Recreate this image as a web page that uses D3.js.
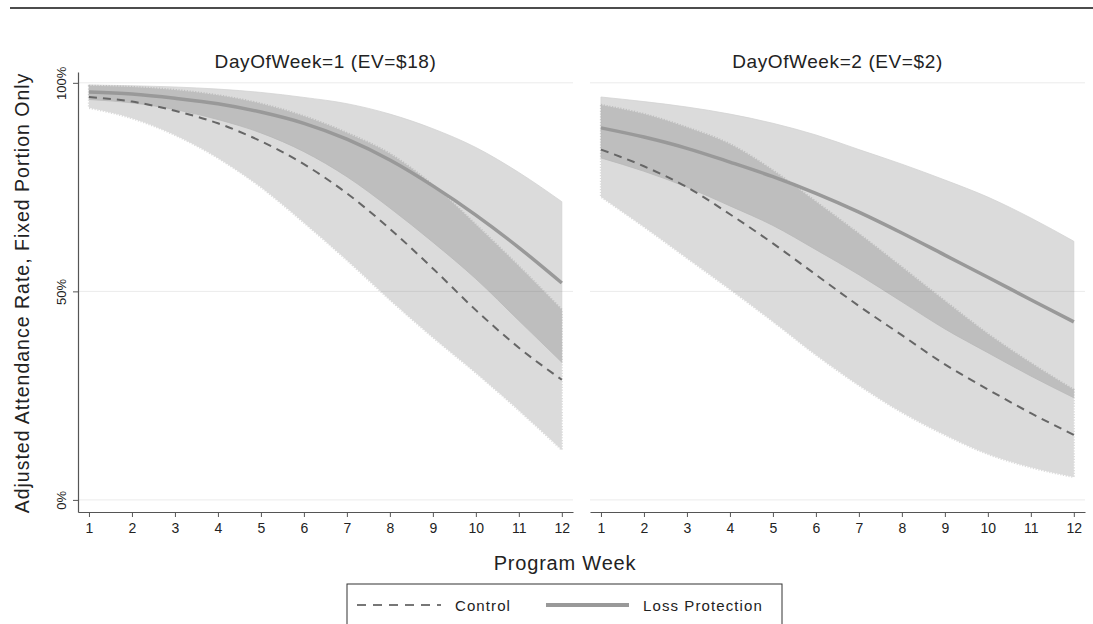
<!DOCTYPE html>
<html><head><meta charset="utf-8">
<script src="https://cdn.jsdelivr.net/npm/d3@7"></script>
<style>body{margin:0;background:#fff}svg{display:block;font-family:"Liberation Sans",Arial,sans-serif}</style>
</head><body><svg id="c" width="1093" height="624"></svg>
<script>
const weeks = [1,2,3,4,5,6,7,8,9,10,11,12];
const panelTitles = ["DayOfWeek=1 (EV=$18)", "DayOfWeek=2 (EV=$2)"];
const yTicks = [0, 50, 100];
const yTickLabels = ["0%", "50%", "100%"];
const seriesNames = ["Control", "Loss Protection"];
// Panel 1 (DayOfWeek=1)
const p1Control   = [96.6,95.5,93.3,90.3,86.0,80.5,73.5,65.0,55.5,45.5,36.5,28.8];
const p1ControlLo = [94.0,91.5,87.5,82.0,75.0,66.5,57.5,48.0,39.0,30.5,21.5,12.0];
const p1ControlHi = [99.3,99.0,98.3,97.0,95.0,92.0,88.0,83.0,75.5,66.0,56.0,45.6];
const p1LP        = [97.8,97.3,96.3,95.0,93.0,90.3,86.5,81.5,75.3,68.3,60.5,52.0];
const p1LPLo      = [96.0,95.2,93.6,91.2,88.0,83.5,77.5,70.0,61.8,53.0,43.0,33.0];
const p1LPHi      = [99.5,99.3,99.0,98.5,97.7,96.5,95.0,92.5,89.0,84.5,78.5,71.5];
// Panel 2 (DayOfWeek=2)
const p2Control   = [84.0,80.0,75.0,68.5,61.5,54.0,46.5,39.5,32.5,26.5,20.8,15.6];
const p2ControlLo = [72.7,65.5,58.0,50.5,42.8,34.8,27.5,21.0,15.6,11.0,7.8,5.5];
const p2ControlHi = [94.7,92.5,89.3,85.3,79.0,71.5,63.8,55.8,47.7,39.8,32.8,26.4];
const p2LP        = [89.2,87.0,84.3,81.0,77.5,73.5,69.0,64.0,58.7,53.4,48.0,42.7];
const p2LPLo      = [82.0,78.8,75.0,70.5,65.8,60.0,54.0,47.5,41.0,35.3,29.7,24.5];
const p2LPHi      = [96.6,95.5,94.2,92.5,90.3,87.5,84.0,80.5,76.7,72.6,67.6,62.0];

const panels = [
  {title: panelTitles[0], x0: 78, x1: 573, c: p1Control, cl: p1ControlLo, ch: p1ControlHi, l: p1LP, ll: p1LPLo, lh: p1LPHi, yaxis: true},
  {title: panelTitles[1], x0: 590, x1: 1085, c: p2Control, cl: p2ControlLo, ch: p2ControlHi, l: p2LP, ll: p2LPLo, lh: p2LPHi, yaxis: false}
];

const FONT = "Liberation Sans, Arial, sans-serif";
const svg = d3.select("#c");
svg.append("line").attr("x1",10).attr("x2",1093).attr("y1",8).attr("y2",8).attr("stroke","#111").attr("stroke-width",1.5);

const y = d3.scaleLinear().domain([-2.9, 102.6]).range([512, 72]);
const curve = d3.curveMonotoneX;

panels.forEach(p => {
  const x = d3.scaleLinear().domain([0.745, 12.26]).range([p.x0, p.x1]);
  const g = svg.append("g");
  g.selectAll("line.grid").data(yTicks).join("line")
    .attr("x1", p.x0).attr("x2", p.x1).attr("y1", d=>y(d)).attr("y2", d=>y(d))
    .attr("stroke","#ebebeb").attr("stroke-width",1);
  const area = (lo, hi) => d3.area().x((d,i)=>x(weeks[i])).y0((d,i)=>y(lo[i])).y1((d,i)=>y(hi[i])).curve(curve)(weeks);
  const line = (v) => d3.line().x((d,i)=>x(weeks[i])).y((d,i)=>y(v[i])).curve(curve)(weeks);
  // LP band (smooth edge)
  const gl = g.append("g").attr("opacity",0.2);
  gl.append("path").attr("d", area(p.ll, p.lh)).attr("fill","#505050")
    .attr("stroke","#2a2a2a").attr("stroke-width",0.8);
  // Control band (ragged edge)
  const gc = g.append("g").attr("opacity",0.2);
  gc.append("path").attr("d", area(p.cl, p.ch)).attr("fill","#505050")
    .attr("stroke","#505050").attr("stroke-width",2.2).attr("stroke-dasharray","1.2,1.6");
  // lines
  g.append("path").attr("d", line(p.l)).attr("fill","none").attr("stroke","#999").attr("stroke-width",3.5);
  g.append("path").attr("d", line(p.c)).attr("fill","none").attr("stroke","#666").attr("stroke-width",2).attr("stroke-dasharray","8,6");
  // x axis
  const xa = g.append("g").attr("transform","translate(0,512)")
    .call(d3.axisBottom(x).tickValues(weeks).tickSize(5).tickSizeOuter(0).tickFormat(d3.format("d")));
  xa.select(".domain").attr("stroke","#555").attr("stroke-width",1.2);
  xa.selectAll(".tick line").attr("stroke","#555");
  xa.selectAll("text").attr("font-size",14).attr("fill","#222").attr("dy","0.95em").attr("font-family",FONT);
  if (p.yaxis) {
    const ya = g.append("g").attr("transform",`translate(${p.x0},0)`)
      .call(d3.axisLeft(y).tickValues(yTicks).tickSize(5).tickSizeOuter(0).tickFormat((d,i)=>yTickLabels[i]));
    ya.select(".domain").attr("stroke","#555").attr("stroke-width",1.2);
    ya.selectAll(".tick line").attr("stroke","#555");
    ya.selectAll(".tick text").attr("font-size",13).attr("fill","#222").attr("font-family",FONT)
      .attr("text-anchor","middle").attr("x",null).attr("dy",null)
      .attr("transform","translate(-12,0) rotate(-90)");
  }
  g.append("text").attr("x",(p.x0+p.x1)/2).attr("y",68).attr("text-anchor","middle")
    .attr("font-size",19).attr("letter-spacing",0.6).attr("fill","#222").text(p.title);
});

svg.append("text").attr("transform","translate(29,293) rotate(-90)").attr("text-anchor","middle")
  .attr("font-size",19.5).attr("letter-spacing",1).attr("fill","#222").text("Adjusted Attendance Rate, Fixed Portion Only");
svg.append("text").attr("x",565).attr("y",570).attr("text-anchor","middle")
  .attr("font-size",20).attr("letter-spacing",0.8).attr("fill","#222").text("Program Week");

// legend
const lg = svg.append("g");
lg.append("rect").attr("x",347).attr("y",584).attr("width",435).attr("height",60).attr("fill","#fff").attr("stroke","#333").attr("stroke-width",1);
lg.append("line").attr("x1",357).attr("x2",441).attr("y1",605).attr("y2",605).attr("stroke","#777").attr("stroke-width",2).attr("stroke-dasharray","9,7");
lg.append("text").attr("x",455).attr("y",610.5).attr("font-size",15).attr("letter-spacing",1.1).attr("fill","#222").text(seriesNames[0]);
lg.append("line").attr("x1",546).attr("x2",629).attr("y1",605).attr("y2",605).attr("stroke","#999").attr("stroke-width",4);
lg.append("text").attr("x",643).attr("y",610.5).attr("font-size",15).attr("letter-spacing",1.1).attr("fill","#222").text(seriesNames[1]);
</script></body></html>
